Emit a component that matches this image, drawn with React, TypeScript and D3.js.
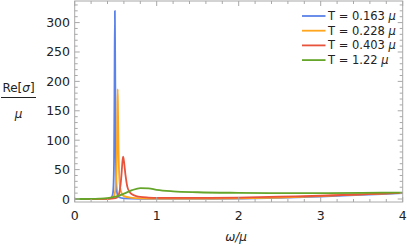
import React from "react";
import * as d3 from "d3";

const blueX = [0, 0.3, 0.4, 0.43, 0.45, 0.46, 0.47, 0.475, 0.48, 0.485, 0.49, 0.495, 0.5, 0.505, 0.51, 0.52, 0.54, 0.6, 0.8, 1, 1.5, 2, 2.5, 3, 3.5, 4];
const blueY = [0, 0, 0.3, 1, 3, 6, 15, 30, 70, 180, 320, 200, 90, 40, 20, 8, 3, 1, 0.3, 0.2, 0.3, 0.8, 2, 4, 7, 10];
const orangeX = [0, 0.3, 0.4, 0.45, 0.48, 0.5, 0.51, 0.515, 0.52, 0.524, 0.528, 0.535, 0.545, 0.56, 0.6, 0.7, 0.8, 1, 1.5, 2, 2.5, 3, 3.5, 4];
const orangeY = [0, 0, 0.5, 2, 6, 20, 50, 90, 150, 187, 150, 80, 35, 15, 5, 2, 1, 0.5, 0.5, 1, 2.5, 5, 8, 10.5];
const redX = [0, 0.4, 0.5, 0.53, 0.55, 0.57, 0.58, 0.59, 0.6, 0.62, 0.64, 0.67, 0.7, 0.75, 0.8, 0.9, 1, 1.5, 2, 2.5, 3, 3.5, 4];
const redY = [0, 0.2, 1.5, 5, 15, 40, 60, 72, 65, 40, 22, 12, 8, 5, 3.5, 2.5, 2, 2, 2.5, 4, 5.5, 8, 10.5];
const greenX = [0, 0.2, 0.3, 0.4, 0.5, 0.6, 0.7, 0.8, 0.9, 1, 1.2, 1.5, 2, 2.5, 3, 3.5, 4];
const greenY = [0, 0.1, 0.5, 1.5, 4, 9, 15, 18.5, 18, 15.5, 13, 11.5, 10.5, 10, 10, 10.5, 11];

const labels = ["0.163", "0.228", "0.403", "1.22"];
const colors = ["#5A82E8", "#FFA51E", "#E8533C", "#64A52A"];
const xTicks = [0, 1, 2, 3, 4];
const yTicks = [0, 50, 100, 150, 200, 250, 300];

export default function App() {
  const W = 407, H = 246;
  const left = 74.7, right = 402.7, top = 1, bottom = 202;
  const x = d3.scaleLinear().domain([0, 4]).range([left, right]);
  const y = d3.scaleLinear().domain([-5.1, 338.4]).range([bottom, 0]);
  const series = [
    [blueX, blueY],
    [orangeX, orangeY],
    [redX, redY],
    [greenX, greenY],
  ];
  const line = d3.line<[number, number]>().x((d) => x(d[0])).y((d) => y(d[1])).curve(d3.curveMonotoneX);
  const xMinor = d3.range(0, 4.0001, 0.2);
  const yMinor = d3.range(0, 338, 10);
  const frame = "#a8a8a8";
  const font = "DejaVu Sans, sans-serif";
  return (
    <svg width={W} height={H} style={{ position: "absolute", left: 0, top: 0 }} fontFamily={font}>
      <defs>
        <clipPath id="plot">
          <rect x={left} y={top} width={right - left} height={bottom - top} />
        </clipPath>
      </defs>
      <g clipPath="url(#plot)">
        {series.map(([xs, ys], i) => (
          <path
            key={i}
            d={line(xs.map((v, j) => [v, ys[j]] as [number, number])) || ""}
            fill="none"
            stroke={colors[i]}
            strokeWidth={1.8}
            strokeLinejoin="round"
          />
        ))}
      </g>
      <rect x={left} y={top} width={right - left} height={bottom - top} fill="none" stroke={frame} strokeWidth={1} />
      {xMinor.map((t, i) => {
        const major = Math.abs(t - Math.round(t)) < 1e-6;
        const len = major ? 5 : 3;
        return (
          <g key={"xm" + i}>
            <line x1={x(t)} x2={x(t)} y1={bottom} y2={bottom - len} stroke={frame} />
            <line x1={x(t)} x2={x(t)} y1={top} y2={top + len} stroke={frame} />
          </g>
        );
      })}
      {yMinor.map((t, i) => {
        const major = t % 50 === 0;
        const len = major ? 5 : 3;
        return (
          <g key={"ym" + i}>
            <line x1={left} x2={left + len} y1={y(t)} y2={y(t)} stroke={frame} />
            <line x1={right} x2={right - len} y1={y(t)} y2={y(t)} stroke={frame} />
          </g>
        );
      })}
      {xTicks.map((t) => (
        <text key={"xt" + t} x={x(t)} y={219.5} textAnchor="middle" fontSize={12.5} fill="#222">
          {t}
        </text>
      ))}
      {yTicks.map((t) => (
        <text key={"yt" + t} x={70} y={y(t) + 4.5} textAnchor="end" fontSize={12.5} fill="#222">
          {t}
        </text>
      ))}
      <text x={18.5} y={92} textAnchor="middle" fontSize={12} fill="#222">
        Re[<tspan fontStyle="italic">σ</tspan>]
      </text>
      <line x1={1} x2={36} y1={97.5} y2={97.5} stroke="#222" strokeWidth={1} />
      <text x={18.5} y={118} textAnchor="middle" fontSize={12} fontStyle="italic" fill="#222">
        μ
      </text>
      <text x={236} y={241} textAnchor="middle" fontSize={12} fontStyle="italic" fill="#222">
        ω/μ
      </text>
      {labels.map((l, i) => (
        <g key={"lg" + i}>
          <line x1={302} x2={325.5} y1={16 + i * 14.7} y2={16 + i * 14.7} stroke={colors[i]} strokeWidth={1.8} />
          <text x={328} y={16 + i * 14.7 + 4} fontSize={11.5} fill="#222">
            T = {l} <tspan fontStyle="italic">μ</tspan>
          </text>
        </g>
      ))}
    </svg>
  );
}
